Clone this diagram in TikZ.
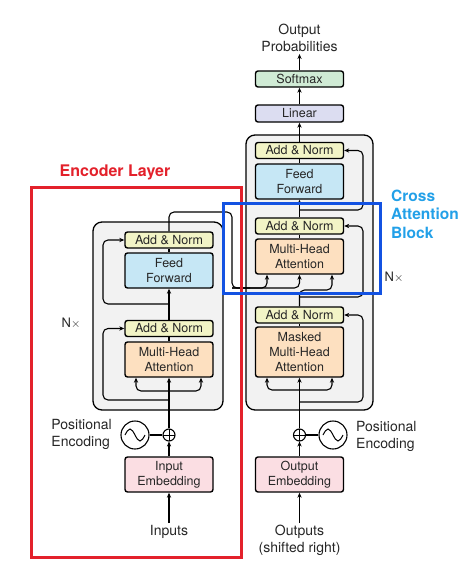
\documentclass[tikz,border=0pt]{standalone}
\usepackage{fontspec}
\setmainfont{TeX Gyre Heros}
\usetikzlibrary{arrows.meta}
\definecolor{anfill}{HTML}{F2F4C6}
\definecolor{fffill}{HTML}{C6E7F5}
\definecolor{mhafill}{HTML}{FDE0C0}
\definecolor{embfill}{HTML}{FBDEE3}
\definecolor{smfill}{HTML}{D0EBD5}
\definecolor{linfill}{HTML}{DCDDF1}
\definecolor{greyfill}{HTML}{F2F2F2}
\definecolor{txt}{HTML}{262626}
\definecolor{redov}{HTML}{E3212B}
\definecolor{blueov}{HTML}{1352E2}
\definecolor{bluetxt}{HTML}{22A0E8}
\tikzset{
  blk/.style={draw=black, line width=1.4pt, rounded corners=2.5pt, minimum width=88pt,
    inner sep=0pt, align=center, text=txt, font=\fontsize{12.5}{15}\selectfont},
  anbox/.style={blk, fill=anfill, minimum height=16pt},
  ffbox/.style={blk, fill=fffill, minimum height=35pt},
  mhabox/.style={blk, fill=mhafill, minimum height=35pt},
  embbox/.style={blk, fill=embfill, minimum height=35pt},
  smbox/.style={blk, fill=smfill, minimum height=16pt},
  linbox/.style={blk, fill=linfill, minimum height=17pt},
  gbox/.style={draw=black, line width=1.3pt, rounded corners=9pt, fill=greyfill, inner sep=0pt},
  lbl/.style={text=txt, align=center, font=\fontsize{14}{17}\selectfont, inner sep=2pt},
  conn/.style={line width=1.1pt, draw=black},
  arr/.style={conn, -{Stealth[length=5pt,width=4.2pt]}},
  rc/.style={rounded corners=5pt},
  plusc/.style={circle, draw=black, line width=1.1pt, fill=white, minimum size=12pt, inner sep=0pt,
    path picture={\draw[line width=1pt] (path picture bounding box.north) -- (path picture bounding box.south)
      (path picture bounding box.west) -- (path picture bounding box.east);}},
  sinec/.style={circle, draw=black, line width=1.1pt, fill=white, minimum size=28pt, inner sep=0pt}
}
\begin{document}
\begin{tikzpicture}[x=1pt,y=-1pt]
\useasboundingbox (0,0) rectangle (468,570);

% grey stacks
\node[gbox, minimum width=130pt, minimum height=188pt] (encbox) at (158,316) {};
\node[gbox, minimum width=127pt, minimum height=275pt] (decbox) at (309.5,272.5) {};

% helper coordinates
\coordinate (eLx) at (103,0);
\coordinate (eKx) at (136,0);
\coordinate (eQx) at (201,0);
\coordinate (dRx) at (363,0);
\coordinate (dKx) at (267,0);
\coordinate (dQx) at (332,0);

% encoder blocks
\node[anbox] (eAN2) at (169,240) {Add \& Norm};
\node[ffbox] (eFF) at (169,270.5) {Feed\\Forward};
\node[anbox] (eAN1) at (169,328.5) {Add \& Norm};
\node[mhabox] (eMHA) at (169,359.5) {Multi-Head\\Attention};
\node[embbox] (eEmb) at (169,474.5) {Input\\Embedding};
\node[plusc] (ePlus) at (169,435) {};
\node[sinec] (eSin) at (135,435) {};
\node[lbl, anchor=east, align=left] (ePE) at (114,434.5) {Positional\\Encoding};
\node[lbl, anchor=center] (inputs) at (169,532) {Inputs};
\node[text=txt, font=\fontsize{13}{15}\selectfont] (eNx) at (71,323) {N$\times$};

% decoder blocks
\node[anbox] (dAN3) at (299.5,150.5) {Add \& Norm};
\node[ffbox] (dFF) at (299.5,181.5) {Feed\\Forward};
\node[anbox] (dAN2) at (299.5,226) {Add \& Norm};
\node[mhabox] (dMHA) at (299.5,256.5) {Multi-Head\\Attention};
\node[anbox] (dAN1) at (299.5,315) {Add \& Norm};
\node[mhabox, minimum height=50pt] (dMMHA) at (299.5,352) {Masked\\Multi-Head\\Attention};
\node[embbox] (dEmb) at (299.5,474.5) {Output\\Embedding};
\node[plusc] (dPlus) at (299.5,435) {};
\node[sinec] (dSin) at (333,435) {};
\node[lbl, anchor=west, align=left] (dPE) at (354,436.5) {Positional\\Encoding};
\node[lbl] (outputs) at (299.5,540.5) {Outputs\\(shifted right)};
\node[text=txt, font=\fontsize{13}{15}\selectfont] (dNx) at (394,277) {N$\times$};
\node[linbox] (lin) at (299.5,113.5) {Linear};
\node[smbox] (sm) at (299.5,79) {Softmax};
\node[lbl] (outprob) at (299.5,38) {Output\\Probabilities};

% sine waves
\foreach \s in {eSin,dSin}{
  \draw[line width=1pt] ([xshift=-10pt]\s.center) sin ++(5,-6) cos ++(5,6) sin ++(5,6) cos ++(5,-6);
}
\draw[conn] (eSin.east) -- (ePlus.west);
\draw[conn] (dSin.west) -- (dPlus.east);

% encoder connectors
\coordinate (eBr) at (169,391);
\coordinate (eR1) at (169,400);
\coordinate (eR2) at (169,304);
\draw[arr] (inputs.north) -- (eEmb.south);
\draw[arr] (eEmb.north) -- (ePlus.south);
\draw[arr] (ePlus.north) -- (eMHA.south);
\draw[arr, rc] (eBr) -| (eMHA.south -| eKx);
\draw[arr, rc] (eBr) -| (eMHA.south -| eQx);
\draw[arr, rc] (eR1) -| (eAN1.west -| eLx) -- (eAN1.west);
\draw[conn] (eMHA.north) -- (eAN1.south);
\draw[arr] (eAN1.north) -- (eFF.south);
\draw[arr, rc] (eR2) -| (eAN2.west -| eLx) -- (eAN2.west);
\draw[conn] (eFF.north) -- (eAN2.south);

% encoder output to cross attention
\coordinate (eO1) at (232,212);
\coordinate (eO2) at (232,288);
\draw[conn, rc] (eAN2.north) |- (eO1) -- (eO2) -- (250,288);
\draw[arr, rc] (eO2) -| (dMHA.south -| dKx);
\draw[arr, rc] (eO2) -| (dMHA.south);

% decoder connectors
\coordinate (dBr) at (299.5,390);
\coordinate (dR1) at (299.5,402);
\coordinate (dQm) at (315,290);
\coordinate (dR2) at (299.5,297);
\coordinate (dR3) at (299.5,210);
\draw[arr] (outputs.north) -- (dEmb.south);
\draw[arr] (dEmb.north) -- (dPlus.south);
\draw[arr] (dPlus.north) -- (dMMHA.south);
\draw[arr, rc] (dBr) -| (dMMHA.south -| dKx);
\draw[arr, rc] (dBr) -| (dMMHA.south -| dQx);
\draw[arr, rc] (dR1) -| (dAN1.east -| dRx) -- (dAN1.east);
\draw[conn] (dMMHA.north) -- (dAN1.south);
\draw[arr, rc] (dAN1.north) |- (dQm) -| (dMHA.south -| dQx);
\draw[arr, rc] (dR2) -| (dAN2.east -| dRx) -- (dAN2.east);
\draw[conn] (dMHA.north) -- (dAN2.south);
\draw[arr] (dAN2.north) -- (dFF.south);
\draw[arr, rc] (dR3) -| (dAN3.east -| dRx) -- (dAN3.east);
\draw[conn] (dFF.north) -- (dAN3.south);
\draw[arr] (dAN3.north) -- (lin.south);
\draw[arr] (lin.north) -- (sm.south);
\draw[arr] (sm.north) -- (outprob.south);

% overlays
\node[draw=redov, line width=3pt, minimum width=210pt, minimum height=370pt, inner sep=0pt] (encLayer) at (136,372) {};
\node[text=redov, font=\fontsize{16}{18}\selectfont\bfseries] (encLbl) at (115,172) {Encoder Layer};
\node[draw=blueov, line width=3pt, minimum width=157pt, minimum height=90pt, inner sep=0pt] (crossBox) at (301.5,248) {};
\node[text=bluetxt, anchor=west, align=left, font=\fontsize{15.5}{18.5}\selectfont\bfseries, inner sep=0pt] (crossLbl) at (391,214) {Cross\\Attention\\Block};
\end{tikzpicture}
\end{document}
